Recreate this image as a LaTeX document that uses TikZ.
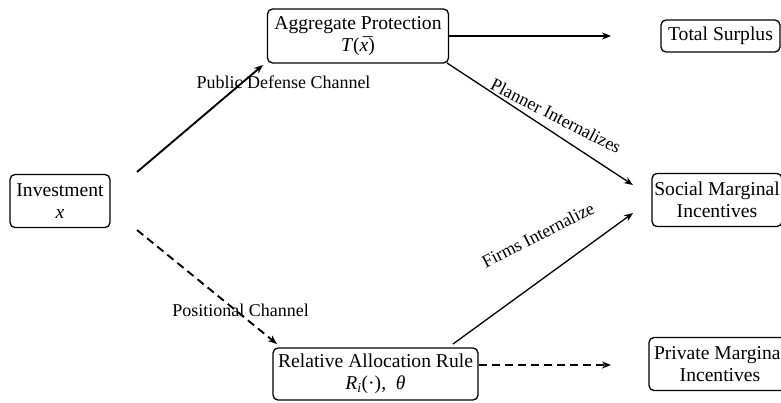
\documentclass[tikz,border=0pt]{standalone}
\usepackage{fontspec}
\setmainfont{Liberation Serif}
\usetikzlibrary{arrows.meta}
\begin{document}
\begin{tikzpicture}[x=1pt,y=-1pt,
  box/.style={draw, line width=1.3pt, rounded corners=5pt, align=center, inner sep=0pt,
    font=\fontsize{19.6}{22}\selectfont},
  lab/.style={font=\fontsize{18}{20}\selectfont, inner sep=0pt},
  tip/.style={-{Stealth[length=9pt,width=7pt]}},
  thickarr/.style={tip, line width=1.9pt},
  thinarr/.style={tip, line width=1.3pt},
  dasharr/.style={tip, line width=1.9pt, dash pattern=on 8pt off 5pt}]
\clip (0,0) rectangle (781,402);
\fill[white] (0,0) rectangle (781,402);
\node[box, minimum width=100pt, minimum height=53pt] (inv) at (60,201) {Investment\\\textit{x}};
\node[box, minimum width=181pt, minimum height=54pt] (agg) at (358,36) {Aggregate Protection\\\textit{T}(\makebox[0pt][l]{\hspace{0.09em}\textit{¯}}\textit{x})};
\node[box, minimum width=119pt, minimum height=32pt] (tot) at (720.5,36) {Total Surplus};
\node[box, minimum width=130pt, minimum height=53pt] (soc) at (717,200) {Social Marginal\\Incentives};
\node[box, minimum width=142pt, minimum height=53pt] (prv) at (720,364) {Private Marginal\\Incentives};
\node[box, minimum width=205pt, minimum height=52pt] (rel) at (375.5,374) {Relative Allocation Rule\\\textit{R\textsubscript{i}}(·),~ \textit{θ}};
% connector end points
\coordinate (a1s) at (137,172); \coordinate (a1e) at (263,65);
\coordinate (a2s) at (137,230); \coordinate (a2e) at (277,344);
\coordinate (a3s) at (448,36);  \coordinate (a3e) at (611,36);
\coordinate (a4s) at (447,63);  \coordinate (a4e) at (633,185);
\coordinate (a5s) at (453,344); \coordinate (a5e) at (633,213);
\coordinate (a6s) at (479,365); \coordinate (a6e) at (611,365);
\draw[thickarr] (a1s) -- (a1e);
\draw[dasharr] (a2s) -- (a2e);
\draw[thickarr] (a3s) -- (a3e);
\draw[thinarr] (a4s) -- (a4e);
\draw[thinarr] (a5s) -- (a5e);
\draw[dasharr] (a6s) -- (a6e);
\node[lab] (l1) at (283.5,82) {Public Defense Channel};
\node[lab] (l2) at (240.5,310) {Positional Channel};
\node[lab, rotate=-27] (l3) at (556,116) {Planner Internalizes};
\node[lab, rotate=27] (l4) at (538,235) {Firms Internalize};
\end{tikzpicture}
\end{document}
